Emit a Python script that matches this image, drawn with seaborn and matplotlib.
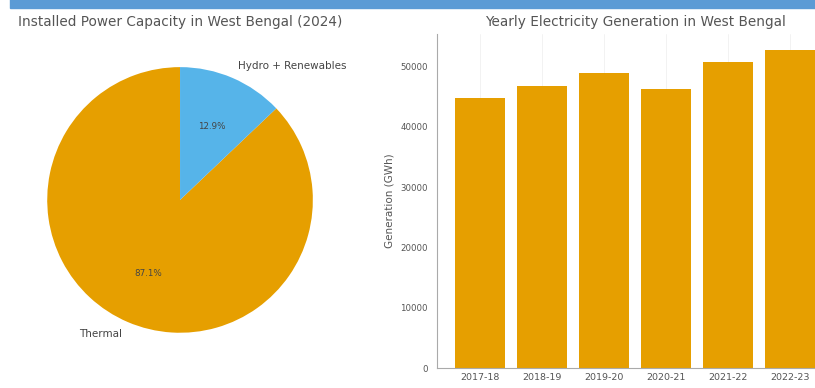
import matplotlib
matplotlib.use("Agg")
import matplotlib.pyplot as plt
import seaborn as sns
import pandas as pd
from matplotlib.patches import Rectangle

# pie data
sources = ["Thermal", "Hydro + Renewables"]
capacity_share = [87.1, 12.9]
pie_colors = ["#E69F00", "#56B4E9"]

# bar data
years = ["2017-18", "2018-19", "2019-20", "2020-21", "2021-22", "2022-23"]
generation = [44800, 46800, 48900, 46300, 50750, 52740]

sns.set_theme(style="white")
plt.rcParams["font.family"] = ["DejaVu Sans"]

fig = plt.figure(figsize=(8.15, 3.88), dpi=100)
fig.patch.set_facecolor("white")

# blue band at the very top
fig.patches.append(Rectangle((0.012, 0.98), 0.99, 0.03, transform=fig.transFigure,
                             color="#5b9bd5", zorder=0))

ax1 = fig.add_axes([0.0172, 0.0567, 0.4074, 0.856])
wedges, texts, autotexts = ax1.pie(capacity_share, labels=sources, colors=pie_colors,
                                   autopct="%1.1f%%", startangle=90,
                                   wedgeprops={"linewidth": 0},
                                   textprops={"fontsize": 7.5, "color": "#444444"})
for t in autotexts:
    t.set_fontsize(6.3)
ax1.set_title("Installed Power Capacity in West Bengal (2024)", fontsize=9.8,
              color="#555555", pad=6)

ax2 = fig.add_axes([437 / 815, 20 / 388, 396 / 815, 334 / 388])
df = pd.DataFrame({"Year": years, "Generation": generation})
sns.barplot(data=df, x="Year", y="Generation", color="#E69F00", saturation=1,
            width=0.8, linewidth=0, ax=ax2)
ax2.set_xlim(-0.69, 5.69)
ax2.set_ylim(0, 55380)
ax2.set_xlabel("")
ax2.set_ylabel("Generation (GWh)", fontsize=7.5, color="#555555")
ax2.set_title("Yearly Electricity Generation in West Bengal", fontsize=9.8,
              color="#555555", pad=6)
ax2.tick_params(axis="y", labelsize=6.2, colors="#555555", length=3, width=0.6)
ax2.tick_params(axis="x", labelsize=6.8, colors="#555555", length=0)
ax2.xaxis.grid(True, color="#f0f0f0", linewidth=0.6)
ax2.set_axisbelow(True)
sns.despine(ax=ax2)
for s in ["left", "bottom"]:
    ax2.spines[s].set_color("#aaaaaa")
    ax2.spines[s].set_linewidth(0.8)

fig.savefig("out.png", dpi=100)
